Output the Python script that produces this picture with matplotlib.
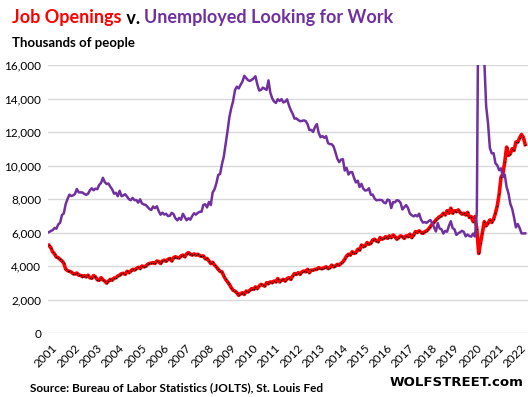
import numpy as np
import matplotlib
matplotlib.use("Agg")
import matplotlib.pyplot as plt

# monthly data, Jan 2001 - May 2022, thousands of people
years = [str(y) for y in range(2001, 2023)]

job_openings = [
    5234, 5097, 4850, 4719, 4533, 4492, 4391, 4298, 4164, 3812, 3721, 3685,  # 2001
    3640, 3540, 3520, 3580, 3450, 3440, 3370, 3420, 3350, 3450, 3300, 3270,  # 2002
    3430, 3350, 3180, 3150, 3300, 3180, 3100, 2980, 3100, 3200, 3150, 3280,  # 2003
    3300, 3400, 3450, 3540, 3560, 3500, 3680, 3600, 3700, 3800, 3760, 3850,  # 2004
    3920, 3850, 4000, 3950, 3980, 4100, 4150, 4170, 4200, 4150, 4300, 4260,  # 2005
    4150, 4300, 4350, 4280, 4400, 4450, 4300, 4500, 4550, 4500, 4480, 4600,  # 2006
    4650, 4550, 4720, 4800, 4700, 4650, 4720, 4650, 4700, 4620, 4580, 4600,  # 2007
    4430, 4450, 4300, 4150, 4220, 4050, 3950, 3800, 3680, 3650, 3400, 3200,  # 2008
    3050, 2900, 2700, 2550, 2500, 2400, 2250, 2350, 2400, 2300, 2500, 2450,  # 2009
    2550, 2650, 2600, 2750, 2650, 2800, 2900, 2850, 2800, 3000, 2950, 3050,  # 2010
    3000, 3100, 3050, 3250, 3050, 3150, 3200, 3100, 3250, 3300, 3200, 3400,  # 2011
    3550, 3500, 3600, 3500, 3650, 3700, 3650, 3800, 3600, 3750, 3750, 3800,  # 2012
    3800, 3900, 3850, 3850, 3900, 3950, 3850, 3900, 4050, 3950, 4000, 4100,  # 2013
    4050, 4150, 4250, 4400, 4600, 4700, 4650, 4850, 4750, 4800, 5000, 4950,  # 2014
    5250, 5150, 5200, 5400, 5300, 5350, 5550, 5600, 5500, 5450, 5700, 5600,  # 2015
    5650, 5750, 5650, 5800, 5700, 5850, 5750, 5600, 5700, 5800, 5750, 5650,  # 2016
    5800, 5750, 5900, 5700, 5850, 6050, 6000, 6100, 6000, 5950, 6050, 6100,  # 2017
    6200, 6350, 6500, 6600, 6750, 6850, 6950, 7000, 7150, 7050, 7300, 7150,  # 2018
    7450, 7150, 7300, 7250, 7350, 7200, 7100, 7150, 7050, 7200, 6900, 6950,  # 2019
    6650, 6950, 6200, 4750, 5400, 6000, 6650, 6400, 6550, 6750, 6600, 6800,  # 2020
    7150, 7600, 8300, 9300, 9500, 10200, 11100, 10600, 10700, 11000, 10900, 11400,  # 2021
    11400, 11650, 11850, 11680, 11250,  # 2022
]

unemployed = [
    6023, 6089, 6141, 6271, 6226, 6484, 6583, 7042, 7142, 7694, 8003, 8258,  # 2001
    8182, 8215, 8304, 8599, 8399, 8393, 8390, 8304, 8251, 8307, 8520, 8640,  # 2002
    8520, 8618, 8588, 8842, 8957, 9266, 9011, 8896, 8921, 8732, 8576, 8317,  # 2003
    8370, 8167, 8491, 8170, 8212, 8286, 8136, 7990, 7927, 8061, 7932, 7934,  # 2004
    7784, 7980, 7737, 7672, 7651, 7524, 7406, 7345, 7553, 7453, 7566, 7279,  # 2005
    7064, 7184, 7072, 7120, 6980, 7001, 7175, 7091, 6847, 6727, 6872, 6762,  # 2006
    7116, 6927, 6731, 6850, 6766, 6979, 7149, 7067, 7170, 7237, 7240, 7645,  # 2007
    7685, 7497, 7822, 7637, 8395, 8575, 8937, 9438, 9494, 10074, 10538, 11286,  # 2008
    12058, 12898, 13426, 13853, 14499, 14707, 14601, 14814, 15009, 15352, 15219, 15098,  # 2009
    15046, 15113, 15202, 15325, 14849, 14474, 14512, 14648, 14579, 14516, 15081, 14348,  # 2010
    14013, 13820, 13737, 13957, 13855, 13962, 13763, 13818, 13948, 13594, 13302, 13093,  # 2011
    12797, 12813, 12713, 12646, 12660, 12692, 12656, 12471, 12115, 12124, 12005, 12298,  # 2012
    12471, 11950, 11689, 11760, 11654, 11751, 11335, 11279, 11270, 11136, 10787, 10404,  # 2013
    10202, 10349, 10380, 9702, 9859, 9460, 9608, 9599, 9262, 8990, 9090, 8717,  # 2014
    8903, 8610, 8504, 8526, 8640, 8257, 8266, 8039, 7925, 7939, 7945, 7933,  # 2015
    7790, 7743, 7966, 7924, 7461, 7816, 7807, 7928, 7902, 7770, 7374, 7511,  # 2016
    7635, 7464, 7128, 7036, 6964, 7037, 6962, 7122, 6774, 6594, 6620, 6576,  # 2017
    6667, 6747, 6571, 6323, 6061, 6560, 6240, 6191, 5937, 6093, 6045, 6399,  # 2018
    6672, 6264, 6186, 5858, 5949, 6020, 6100, 6034, 5769, 5881, 5787, 5754,  # 2019
    5936, 5760, 7239, 23109, 20932, 17787, 16286, 13550, 12535, 11049, 10728, 10736,  # 2020
    10130, 10009, 9718, 9827, 9319, 9455, 8716, 8337, 7712, 7412, 6900, 6309,  # 2021
    6507, 6270, 5952, 5941, 5950,  # 2022
]

RED = '#FF0000'
PURPLE = '#7030A0'
GRID = '#D9D9D9'
FONT = 'Lato'

fig = plt.figure(figsize=(5.28, 3.97), dpi=100)
ax = fig.add_axes([48 / 528, 64 / 397, 480 / 528, 268 / 397])

months = np.arange(len(job_openings))
ax.plot(months, job_openings, color=RED, lw=2.6, zorder=3)
# small black point markers on the red line
ax.plot(months, job_openings, ls='none', marker='s', ms=0.9, mew=0,
        mfc='black', zorder=3.5)
ax.plot(np.arange(len(unemployed)), unemployed, color=PURPLE, lw=1.8, zorder=4)

ax.set_xlim(-0.5, 257.5)
ax.set_ylim(0, 16000)
ax.set_yticks(range(0, 16001, 2000))
ax.set_yticklabels([f'{v:,}' for v in range(0, 16001, 2000)],
                   fontsize=8.5, family=FONT)
ax.yaxis.grid(True, color=GRID, lw=1)
ax.set_axisbelow(True)
ax.tick_params(axis='both', length=0, pad=5)
for s in ax.spines.values():
    s.set_visible(False)

ax.set_xticks(np.arange(len(years)) * 12 + 1.5)
ax.set_xticklabels(years, rotation=45, ha='right', va='top',
                   rotation_mode='anchor', fontsize=8.5, family=FONT)
ax.tick_params(axis='x', pad=7)

# title in three colours
parts = [('Job Openings', RED), (' v. ', 'black'), ('Unemployed Looking for Work', PURPLE)]
renderer = fig.canvas.get_renderer()
x = 12 / 528
for txt, col in parts:
    t = fig.text(x, 1 - 18 / 397, txt, color=col, fontsize=13, fontweight='bold',
                 family=FONT, va='center', ha='left')
    bb = t.get_window_extent(renderer=renderer)
    x += bb.width / fig.bbox.width

fig.text(12 / 528, 1 - 43 / 397, 'Thousands of people', fontsize=9.5,
         fontweight='bold', family=FONT, va='center', ha='left')

fig.text(30 / 528, 1 - 388 / 397, 'Source: Bureau of Labor Statistics (JOLTS), St. Louis Fed',
         fontsize=8.5, fontweight='bold', family=FONT, va='center', ha='left')
fig.text(523 / 528, 1 - 383 / 397, 'WOLFSTREET.com', fontsize=9.5,
         fontweight='bold', family='DejaVu Sans', va='center', ha='right')

fig.savefig('out.png', dpi=100)
